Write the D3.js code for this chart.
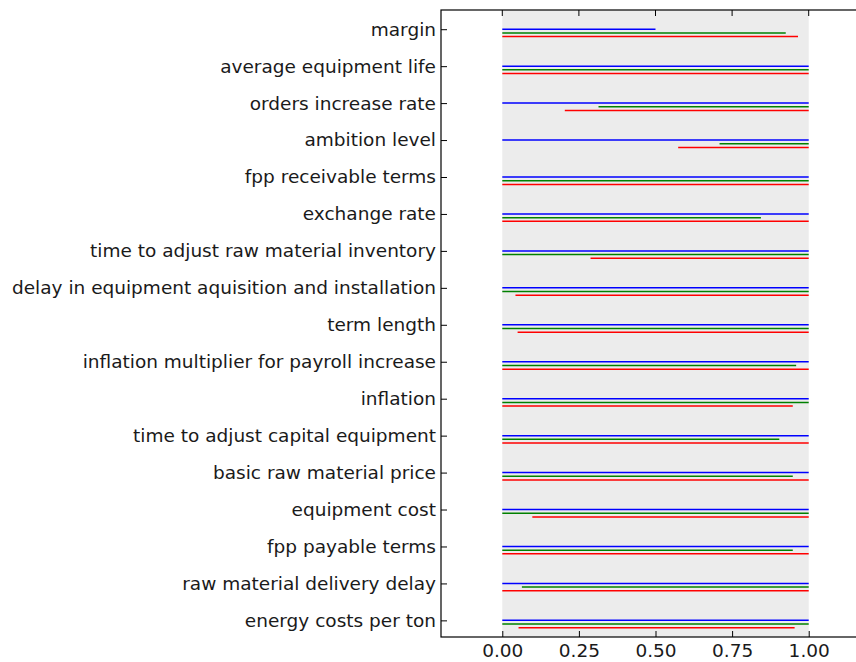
<!DOCTYPE html>
<html>
<head>
<meta charset="utf-8">
<script src="https://cdn.jsdelivr.net/npm/d3@7"></script>
<style>
  html, body { margin: 0; padding: 0; background: #fff; }
  svg { display: block; }
  text { font-family: "DejaVu Sans", sans-serif; fill: #1a1a1a; }
</style>
</head>
<body>
<svg id="chart" width="856" height="662"></svg>
<script>
// Uncertainty parameters, top to bottom
const categories = [
  "margin",
  "average equipment life",
  "orders increase rate",
  "ambition level",
  "fpp receivable terms",
  "exchange rate",
  "time to adjust raw material inventory",
  "delay in equipment aquisition and installation",
  "term length",
  "inflation multiplier for payroll increase",
  "inflation",
  "time to adjust capital equipment",
  "basic raw material price",
  "equipment cost",
  "fpp payable terms",
  "raw material delivery delay",
  "energy costs per ton"
];

// Normalised [start, end] ranges per series
const blueRanges = [
  [0, 0.5], [0, 1], [0, 1], [0, 1], [0, 1], [0, 1], [0, 1], [0, 1], [0, 1],
  [0, 1], [0, 1], [0, 1], [0, 1], [0, 1], [0, 1], [0, 1], [0, 1]
];
const greenRanges = [
  [0, 0.925], [0, 1], [0.314, 1], [0.709, 1], [0, 1], [0, 0.844], [0, 1], [0, 1], [0, 1],
  [0, 0.959], [0, 1], [0, 0.904], [0, 0.948], [0, 1], [0, 0.948], [0.064, 1], [0, 1]
];
const redRanges = [
  [0, 0.965], [0, 1], [0.204, 1], [0.574, 1], [0, 1], [0, 1], [0.288, 1], [0.043, 1], [0.05, 1],
  [0, 1], [0, 0.948], [0, 1], [0, 1], [0.098, 1], [0, 1], [0, 1], [0.053, 0.954]
];

const xTicks = [0, 0.25, 0.5, 0.75, 1.0];

const series = [
  { name: "blue",  color: "#0000ff", offset: 0.0, ranges: blueRanges },
  { name: "green", color: "#008000", offset: 0.1, ranges: greenRanges },
  { name: "red",   color: "#ff0000", offset: 0.2, ranges: redRanges }
];

const svg = d3.select("#chart");
const plot = { left: 441, top: 10, right: 870, bottom: 637 };

const x = d3.scaleLinear().domain([-0.2, 1.2]).range([plot.left, plot.right]);
const y = d3.scaleLinear().domain([-0.52, categories.length - 1 + 0.45]).range([plot.top, plot.bottom]);

// shaded unit interval
svg.append("rect")
  .attr("x", x(0)).attr("y", plot.top)
  .attr("width", x(1) - x(0)).attr("height", plot.bottom - plot.top)
  .attr("fill", "#ececec");

// range lines
series.forEach(s => {
  svg.append("g").selectAll("line")
    .data(s.ranges)
    .join("line")
    .attr("x1", d => x(d[0]))
    .attr("x2", d => x(d[1]))
    .attr("y1", (d, i) => y(i + s.offset))
    .attr("y2", (d, i) => y(i + s.offset))
    .attr("stroke", s.color)
    .attr("stroke-width", 1.5);
});

// frame
svg.append("rect")
  .attr("x", plot.left).attr("y", plot.top)
  .attr("width", plot.right - plot.left).attr("height", plot.bottom - plot.top)
  .attr("fill", "none").attr("stroke", "#000").attr("stroke-width", 1.2);

// y axis: inward ticks, category labels
const yAxis = d3.axisLeft(y)
  .tickValues(d3.range(categories.length))
  .tickFormat(i => categories[i])
  .tickSizeInner(-6).tickSizeOuter(0).tickPadding(6);
const gy = svg.append("g").attr("transform", `translate(${plot.left},0)`).call(yAxis);
gy.select(".domain").remove();
gy.selectAll(".tick line").attr("stroke", "#000");
gy.selectAll(".tick text").attr("x", -5).style("font-size", "18.5px").attr("fill", "#1a1a1a");

// x axis bottom with inward ticks
const xAxis = d3.axisBottom(x)
  .tickValues(xTicks)
  .tickFormat(d3.format(".2f"))
  .tickSizeInner(-6).tickSizeOuter(0).tickPadding(10);
const gx = svg.append("g").attr("transform", `translate(0,${plot.bottom})`).call(xAxis);
gx.select(".domain").remove();
gx.selectAll(".tick line").attr("stroke", "#000");
gx.selectAll(".tick text").attr("y", 7).style("font-size", "18.5px").attr("fill", "#1a1a1a");

// mirrored ticks on top edge
svg.append("g").selectAll("line")
  .data(xTicks)
  .join("line")
  .attr("x1", d => x(d)).attr("x2", d => x(d))
  .attr("y1", plot.top).attr("y2", plot.top + 6)
  .attr("stroke", "#000");
</script>
</body>
</html>
